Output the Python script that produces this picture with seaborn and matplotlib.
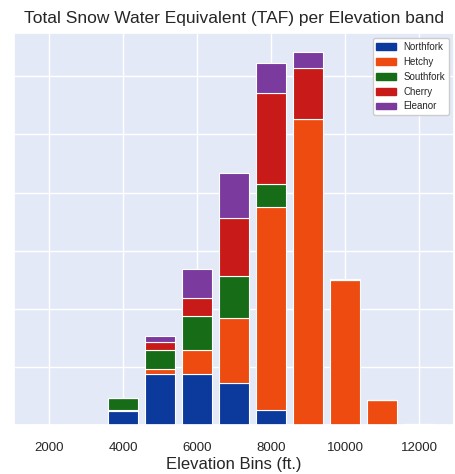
import matplotlib.pyplot as plt
import matplotlib.patches as mpatches
from matplotlib.ticker import MultipleLocator
import numpy as np
import pandas as pd
import seaborn as sns

# elevation bin centres (ft.) and Snow Water Equivalent (TAF) per watershed
elev_bins = [2000, 3000, 4000, 5000, 6000, 7000, 8000, 9000, 10000, 11000, 12000]
northfork = [0, 0, 12, 44, 44, 36, 13, 0, 0, 0, 0]
hetchy = [0, 0, 1, 4.5, 20.5, 56, 175, 263, 125, 22, 0.7]
southfork = [0, 0, 10, 16, 29, 36, 19, 0, 0, 0, 0]
cherry = [0, 0, 0, 7, 16, 50, 79, 44, 0.8, 0, 0]
eleanor = [0, 0, 0, 5, 25, 39, 25, 14, 0, 0, 0]

regions = ["Northfork", "Hetchy", "Southfork", "Cherry", "Eleanor"]
colors = ["#0B3A9C", "#EE4B10", "#176D17", "#C81A18", "#7B3A9E"]

series = [northfork, hetchy, southfork, cherry, eleanor]
rows = []
for name, vals in zip(regions, series):
    for e, v in zip(elev_bins, vals):
        rows.append({"elev": e, "taf": v, "region": name})
df = pd.DataFrame(rows)

sns.set_theme(style="darkgrid", rc={"axes.facecolor": "#E3E9F6"})
plt.rcParams["font.family"] = ["Liberation Sans", "DejaVu Sans"]

fig = plt.figure(figsize=(4.55, 4.74), dpi=100)
ax = fig.add_axes([0.031, 0.103, 0.967, 0.827])

# seaborn stacks the first hue level on top, so reverse to get Northfork at the bottom
palette = dict(zip(regions, colors))
sns.histplot(data=df, x="elev", weights="taf", hue="region",
             hue_order=regions[::-1], palette=palette, multiple="stack",
             binwidth=1000, binrange=(1500, 12500), shrink=0.8,
             alpha=1, edgecolor="white", linewidth=0.8, legend=False, ax=ax)

totals = np.sum(series, axis=0)
ax.set_xlim(1050, 12950)
ax.set_ylim(0, totals.max() * 1.05)
ax.set_xticks([2000, 4000, 6000, 8000, 10000, 12000])
ax.yaxis.set_major_locator(MultipleLocator(50))
ax.tick_params(axis="y", labelleft=False, left=False)
ax.tick_params(axis="x", labelsize=9.5, pad=6)
ax.set_ylabel("")
ax.set_xlabel("Elevation Bins (ft.)", fontsize=12, labelpad=2)
ax.set_title("Total Snow Water Equivalent (TAF) per Elevation band", fontsize=12.5, pad=7)

handles = [mpatches.Patch(color=c, label=r) for r, c in zip(regions, colors)]
leg = ax.legend(handles=handles, loc="upper right", fontsize=7, frameon=True,
                facecolor="white", edgecolor="#cccccc", framealpha=1)

plt.savefig("out.png", dpi=100)
